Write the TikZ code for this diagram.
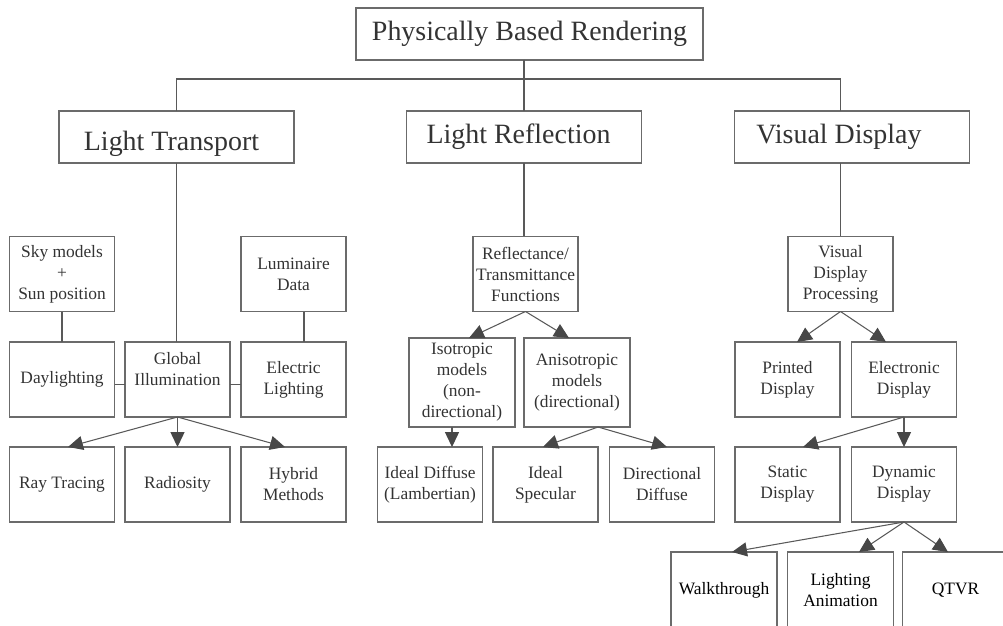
\documentclass[tikz,border=0pt]{standalone}
\usepackage{fontspec}
\setmainfont{Liberation Serif}
\usetikzlibrary{arrows.meta,calc}

\begin{document}
\begin{tikzpicture}[x=0.2mm, y=-0.2mm, >={Triangle[length=8.5pt,width=8pt,color=black!72]},
	box/.style={draw=black!58, line width=0.75pt, inner sep=0pt, outer sep=0pt, align=center,
		text=black!80, font=\fontsize{9.9}{11.95}\selectfont, minimum width=21mm, minimum height=15mm},
	title/.style={box, font=\fontsize{15.9}{19}\selectfont, minimum width=47mm, minimum height=10.4mm},
	tall/.style={box, minimum width=21.2mm, minimum height=17.8mm},
	low/.style={box, text=black, minimum width=21.2mm, minimum height=15.2mm},
	link/.style={draw=black!65, line width=0.6pt}]

	\useasboundingbox (0, 0) rectangle (1003, 626);

	\node[title, minimum width=69.4mm] (pbr) at (529.5, 34) {Physically Based Rendering};
	\node[title] (lt) at (176.5, 137) {\raisebox{-1.4mm}[\height][\depth]{Light Transport}\hspace*{2mm}};
	\node[title] (lr) at (524, 137) {Light Reflection\hspace*{2.2mm}};
	\node[title] (vd) at (852, 137) {Visual Display\hspace*{5.2mm}};

	\node[box] (sky) at (62, 274) {Sky models\\+\\Sun position};
	\node[box] (lum) at (293.5, 274) {Luminaire\\Data};
	\node[box] (rtf) at (525.5, 274) {Reflectance/\\Transmittance\\Functions};
	\node[box] (vdp) at (840.5, 274) {Visual\\Display\\Processing};

	\node[box] (day) at (62, 379.5) {Daylighting};
	\node[box] (gi) at (177.5, 379.5) {Global\\Illumination\\\mbox{}};
	\node[box] (el) at (293.5, 379.5) {Electric\\Lighting};
	\node[tall] (iso) at (462, 382.5) {Isotropic\\models\\(non-\\directional)};
	\node[tall] (aniso) at (577, 382.5) {Anisotropic\\models\\(directional)};
	\node[box] (pd) at (787.5, 379.5) {Printed\\Display};
	\node[box] (ed) at (904, 379.5) {Electronic\\Display};

	\node[box] (rt) at (62, 484.5) {Ray Tracing};
	\node[box] (rad) at (177.5, 484.5) {Radiosity};
	\node[box] (hyb) at (293.5, 484.5) {Hybrid\\Methods};
	\node[box] (idf) at (430, 484.5) {Ideal Diffuse\\(Lambertian)};
	\node[box] (isp) at (545.5, 484.5) {Ideal\\Specular};
	\node[box] (dd) at (662, 484.5) {Directional\\Diffuse};
	\node[box] (sd) at (787.5, 484.5) {Static\\Display};
	\node[box] (dyn) at (904, 484.5) {Dynamic\\Display};

	\node[low] (walk) at (724, 590) {Walkthrough};
	\node[low] (anim) at (840.5, 590) {Lighting\\Animation};
	\node[low] (qtvr) at (955.5, 590) {QTVR};

	\coordinate (bus) at (0, 79);
	\draw[link] (lt.north) |- (bus -| vdp) -- (vdp |- vd.north);
	\draw[link] (lr |- pbr.south) -- (lr.north);
	\draw[link] (lt.south) -- (lt.south |- gi.north);
	\draw[link] (lr.south) -- (lr.south |- rtf.north);
	\draw[link] (vdp |- vd.south) -- (vdp.north);

	\draw[link] (sky) -- (day);
	\draw[link] ($(lum.south)+(10.5,0)$) -- ($(el.north)+(10.5,0)$);
	\draw[link] ([yshift=-1mm]day.east) -- ([yshift=-1mm]gi.west);
	\draw[link] ([yshift=-1mm]gi.east) -- ([yshift=-1mm]el.west);

	\foreach \a/\p/\b/\q in {gi/0/rt/6, gi/0/rad/0, gi/0/hyb/-8.5,
			rtf/0/iso/7, rtf/0/aniso/-8, iso/-10/idf/22, aniso/21/isp/-2.5, aniso/21/dd/5,
			vdp/0/pd/9.5, vdp/0/ed/-18, ed/0/sd/15.5, ed/0/dyn/0,
			dyn/0/walk/8, dyn/0/anim/18.5, dyn/0/qtvr/-7.5}
		\draw[link, ->] ($(\a.south)+(\p,0)$) -- ($(\b.north)+(\q,0)$);
\end{tikzpicture}
\end{document}
